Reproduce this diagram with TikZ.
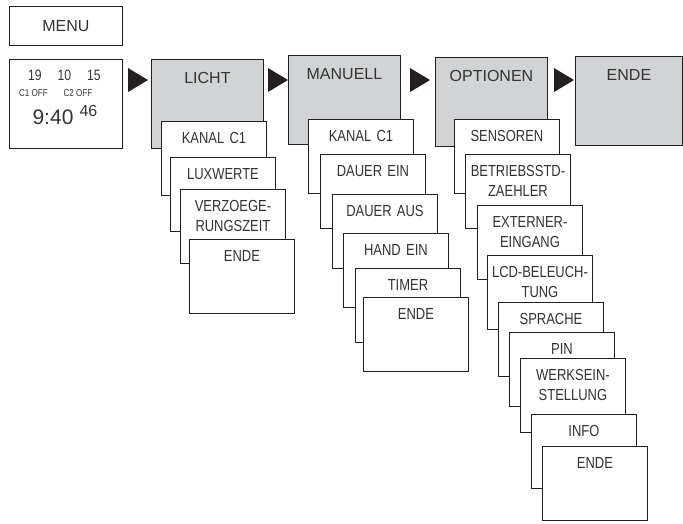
\documentclass[tikz,border=0pt]{standalone}
\usepackage{fontspec}
\setmainfont{Liberation Sans}[FakeStretch=0.81]
\newfontfamily\titlefont{Liberation Sans}
\definecolor{linecol}{HTML}{231F20}
\definecolor{textcol}{HTML}{333333}
\definecolor{panelgray}{HTML}{D1D3D4}
\tikzset{
  menubox/.style = {anchor=north west, draw=linecol, line width=0.9pt, fill=white, text=textcol, inner sep=0pt, text width=105pt, align=center, text height=22pt, text depth=52pt, font=\fontsize{16}{20}\selectfont},
  mainbox/.style = {menubox, fill=panelgray, text width=112pt, text height=24pt, text depth=65pt, font=\titlefont\fontsize{16}{20}\selectfont},
  headbox/.style = {anchor=north west, draw=linecol, line width=0.9pt, text=textcol, inner sep=0pt, minimum width=113pt, minimum height=39pt, font=\titlefont\fontsize{16}{20}\selectfont},
  clockbox/.style = {headbox, minimum height=89pt},
  clocktext/.style = {text=textcol, inner sep=0pt, font=\fontsize{15}{18}\selectfont}
}
\newcommand{\menuarrow}[1]{\fill[linecol] (#1,68) -- ++(20,12) -- ++(-20,12) -- cycle;}

\begin{document}
\begin{tikzpicture}[x=1pt, y=-1pt]
  \useasboundingbox (0,0) rectangle (683,523);
  % left: menu key and clock display
  \node [headbox] (menu) at (9,6) {MENU};
  \node [clockbox] (clock) at (9,59) {};
  \node [clocktext] (day) at (35,75) {19};
  \node [clocktext] (month) at (64.5,75) {10};
  \node [clocktext] (year) at (94,75) {15};
  \node [clocktext, font=\fontsize{10}{11}\selectfont] (cone) at (33.5,93) {C1 OFF};
  \node [clocktext, font=\fontsize{10}{11}\selectfont] (ctwo) at (78,93) {C2 OFF};
  \node [clocktext, font=\titlefont\fontsize{21}{24}\selectfont] (time) at (53,117) {9:40};
  \node [clocktext, font=\titlefont\fontsize{16}{18}\selectfont] (sec) at (88.5,111) {46};
  % main menu row
  \node [mainbox] (licht) at (151,59) {LICHT};
  \node [mainbox] (manuell) at (288,55) {MANUELL};
  \node [mainbox] (optionen) at (435,57) {OPTIONEN};
  \node [mainbox, text width=107pt] (ende) at (575,56) {ENDE};
  \menuarrow{128}
  \menuarrow{268}
  \menuarrow{410}
  \menuarrow{554}
  % LICHT
  \node [menubox] (lk1) at (161,121) {KANAL C1};
  \node [menubox] (lk2) at (170,157) {LUXWERTE};
  \node [menubox] (lk3) at (180,189) {VERZOEGE-\\RUNGSZEIT};
  \node [menubox] (lk4) at (189,239) {ENDE};
  % MANUELL
  \node [menubox] (mk1) at (308,119) {KANAL C1};
  \node [menubox] (mk2) at (320,154) {DAUER EIN};
  \node [menubox] (mk3) at (332,194) {DAUER AUS};
  \node [menubox] (mk4) at (343,233) {HAND EIN};
  \node [menubox] (mk5) at (355,268) {TIMER};
  \node [menubox] (mk6) at (363,297) {ENDE};
  % OPTIONEN
  \node [menubox] (ok1) at (454,119) {SENSOREN};
  \node [menubox] (ok2) at (465,154) {BETRIEBSSTD-\\ZAEHLER};
  \node [menubox] (ok3) at (477,205) {EXTERNER-\\EINGANG};
  \node [menubox] (ok4) at (487,255) {LCD-BELEUCH-\\TUNG};
  \node [menubox] (ok5) at (498,302) {SPRACHE};
  \node [menubox] (ok6) at (509,332) {PIN};
  \node [menubox] (ok7) at (520,358) {WERKSEIN-\\STELLUNG};
  \node [menubox] (ok8) at (531,414) {INFO};
  \node [menubox] (ok9) at (542,446) {ENDE};
\end{tikzpicture}
\end{document}
